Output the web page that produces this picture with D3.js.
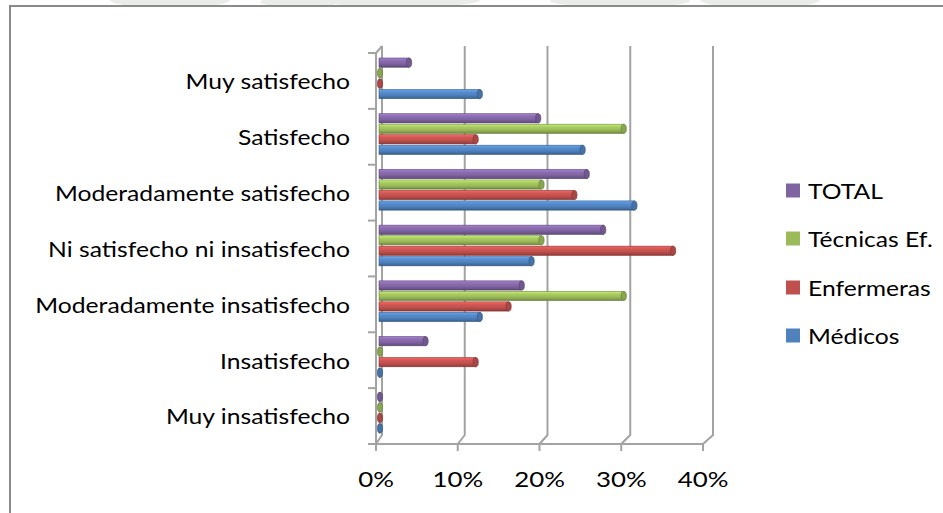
<!DOCTYPE html>
<html>
<head>
<meta charset="utf-8">
<script src="https://cdn.jsdelivr.net/npm/d3@7"></script>
<style>
  body { margin: 0; background: #fff; }
  svg { display: block; }
  text { font-family: Lato, "Open Sans", sans-serif; fill: #000; }
</style>
</head>
<body>
<svg id="chart" width="943" height="513"></svg>
<script>
// Satisfaction levels (top to bottom) and the share (%) of each staff group
const categories = [
  "Muy satisfecho",
  "Satisfecho",
  "Moderadamente satisfecho",
  "Ni satisfecho ni insatisfecho",
  "Moderadamente insatisfecho",
  "Insatisfecho",
  "Muy insatisfecho"
];
const seriesNames = ["TOTAL", "Técnicas Ef.", "Enfermeras", "Médicos"];
const total      = [3.9, 19.6, 25.5, 27.5, 17.6, 5.9, 0];
const tecnicas   = [0, 30, 20, 20, 30, 0, 0];
const enfermeras = [0, 12, 24, 36, 16, 12, 0];
const medicos    = [12.5, 25, 31.3, 18.8, 12.5, 0, 0];
const xTicks = [0, 10, 20, 30, 40];
const colors = ["#8064A2", "#9BBB59", "#C0504D", "#4F81BD"];

const seriesValues = [total, tecnicas, enfermeras, medicos];

const svg = d3.select("#chart");
const defs = svg.append("defs");

// Faint letterhead marks above the frame
defs.append("clipPath").attr("id", "topClip")
  .append("rect").attr("x", 0).attr("y", 0).attr("width", 943).attr("height", 5);
const wm = svg.append("g").attr("clip-path", "url(#topClip)").attr("fill", "#e9ece8");
[[170, 0, 60, 8], [300, 2, 40, 5], [400, 0, 80, 7], [620, 1, 70, 6], [760, 0, 60, 8]]
  .forEach(([cx, cy, rx, ry]) => wm.append("ellipse")
    .attr("cx", cx).attr("cy", cy).attr("rx", rx).attr("ry", ry));

// Outer frame
svg.append("rect")
  .attr("x", 10).attr("y", 6).attr("width", 1000).attr("height", 600)
  .attr("fill", "none").attr("stroke", "#8a8a8a").attr("stroke-width", 2);

// 3D plot geometry: front plane, back wall and the middle plane where the bars sit
const xFront = d3.scaleLinear().domain([0, 40]).range([376, 703]);
const xBack  = d3.scaleLinear().domain([0, 40]).range([382, 713]);
const xMid   = d3.scaleLinear().domain([0, 40]).range([379, 708]);
const yFront = d3.scaleBand().domain(categories).range([53, 444]).padding(0);
const yBack  = d3.scaleBand().domain(categories).range([46, 435]).padding(0);
const yMid   = d3.scaleBand().domain(categories).range([49.5, 439.5]).padding(0);
const ySeries = d3.scaleBand().domain(seriesNames)
  .range([8.5, yMid.bandwidth() - 6.5]).paddingInner(0.12).paddingOuter(0);

const grid = svg.append("g")
  .attr("fill", "none").attr("stroke", "#a3a3a3").attr("stroke-width", 2);

const [backTop, backBottom] = yBack.range();
const [frontTop, frontBottom] = yFront.range();

// Back wall gridlines, floor diagonals and axis ticks
xTicks.forEach(t => {
  grid.append("path").attr("d", d3.line()([
    [xBack(t), backTop], [xBack(t), backBottom], [xFront(t), frontBottom], [xFront(t), frontBottom + 7]
  ]));
});
// Floor front edge
grid.append("line")
  .attr("x1", xFront(0)).attr("x2", xFront(40))
  .attr("y1", frontBottom).attr("y2", frontBottom);
// Side wall / category axis
grid.append("path").attr("d", d3.line()([
  [xBack(0), backTop], [xFront(0), frontTop], [xFront(0), frontBottom]
]));
const boundaries = categories.map(c => yFront(c)).concat([frontBottom]);
boundaries.forEach(y => {
  grid.append("line")
    .attr("x1", xFront(0) - 8).attr("x2", xFront(0))
    .attr("y1", y).attr("y2", y);
});

// Shading gradients for the bars
colors.forEach((c, j) => {
  const base = d3.color(c);
  const g = defs.append("linearGradient").attr("id", "grad" + j)
    .attr("x1", 0).attr("y1", 0).attr("x2", 0).attr("y2", 1);
  [[0, base.brighter(0.7)], [0.3, base.brighter(0.25)], [0.6, base],
   [0.85, base.darker(0.45)], [1, base.darker(1.1)]]
    .forEach(([o, col]) => g.append("stop").attr("offset", o).attr("stop-color", col.formatHex()));
});

// Bars
const bars = svg.append("g");
categories.forEach((cat, i) => {
  seriesNames.forEach((s, j) => {
    const v = seriesValues[j][i];
    const y = yMid(cat) + ySeries(s);
    const h = ySeries.bandwidth();
    const x0 = xMid(0);
    const x1 = xMid(v);
    const base = d3.color(colors[j]);
    const capX = Math.max(x1 - 2, x0 + 1);
    if (capX > x0) {
      bars.append("rect")
        .attr("x", x0).attr("y", y)
        .attr("width", capX - x0).attr("height", h)
        .attr("fill", `url(#grad${j})`)
        .attr("stroke", base.darker(0.9).formatHex()).attr("stroke-width", 0.6);
    }
    bars.append("ellipse")
      .attr("cx", capX).attr("cy", y + h / 2)
      .attr("rx", 2.6).attr("ry", h / 2)
      .attr("fill", base.darker(0.35).formatHex())
      .attr("stroke", base.darker(1).formatHex()).attr("stroke-width", 0.7);
  });
});

// Text: the chart's type is rendered slightly wide
const labelFont = 21;
const probe = svg.append("text").attr("font-size", labelFont).text("Moderadamente insatisfecho");
const sx = 315 / probe.node().getComputedTextLength();
probe.remove();

function addText(g, x, y, str, anchor, size) {
  g.append("text")
    .attr("transform", `translate(${x},${y}) scale(${sx},1)`)
    .attr("text-anchor", anchor)
    .attr("dy", "0.35em")
    .attr("font-size", size)
    .text(str);
}

const labels = svg.append("g");
categories.forEach(cat => {
  addText(labels, 350, yFront(cat) + yFront.bandwidth() / 2 + 1, cat, "end", labelFont);
});

xTicks.forEach(t => {
  addText(labels, xFront(t), 479, t + "%", "middle", labelFont + 1);
});

// Legend (TOTAL on top)
const legendY = [190.5, 238.5, 287.5, 335.5];
const legend = svg.append("g");
seriesNames.forEach((s, j) => {
  legend.append("rect")
    .attr("x", 786).attr("y", legendY[j] - 7)
    .attr("width", 14).attr("height", 14)
    .attr("fill", colors[j]);
  addText(legend, 808, legendY[j] + 1, s, "start", labelFont);
});
</script>
</body>
</html>
